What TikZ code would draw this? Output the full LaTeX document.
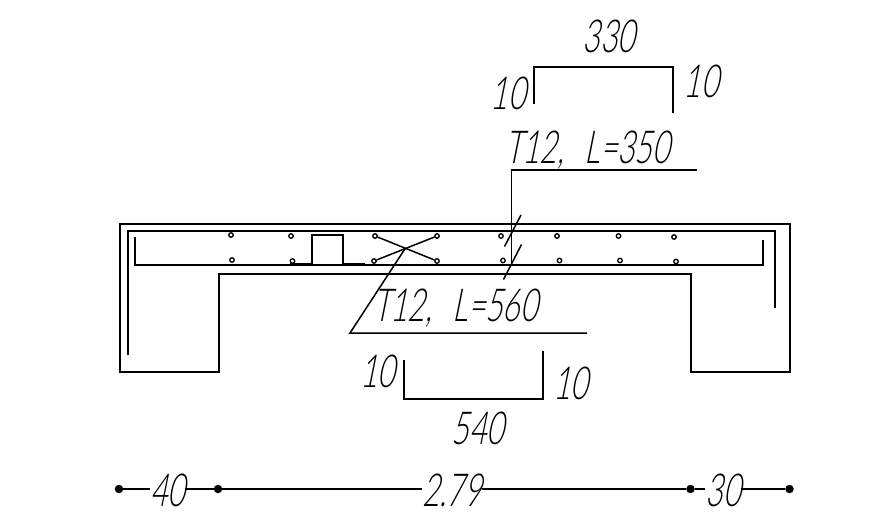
\documentclass[tikz,border=0pt]{standalone}
\usepackage{fontspec}
\newfontfamily\cadfont[FakeSlant=0.2,FakeStretch=0.66]{Lato Light}
\tikzset{
 line/.style={draw=black,line width=2pt,line join=miter},
 thin line/.style={draw=black,line width=1.5pt},
 bar/.style={circle,draw=black,line width=1.3pt,fill=white,inner sep=0pt,minimum size=4.5pt},
 dimdot/.style={circle,fill=black,inner sep=0pt,minimum size=8.5pt},
 cad/.style={inner sep=0pt,anchor=base,text=black,font=\cadfont\fontsize{45.5pt}{46pt}\selectfont},
}
\begin{document}
\begin{tikzpicture}[x=1pt,y=-1pt]
\useasboundingbox[fill=white] (0,0) rectangle (889,528);
% concrete outline
\draw[line] (119.5,223.5) -- (789.5,223.5) -- (789.5,372) -- (690.5,372) -- (690.5,273.5) -- (218.5,273.5) -- (218.5,372) -- (119.5,372) -- cycle;
% rebars
\draw[line] (127.5,355) -- (127.5,231) -- (774.5,231) -- (774.5,308);
\draw[line] (134.5,237) -- (134.5,264.5) -- (762.5,264.5) -- (762.5,240);
\draw[line] (311.5,264) -- (311.5,234.5) -- (342.5,234.5) -- (342.5,264);
\draw[line] (290,263.5) -- (311,263.5) (342,263.5) -- (365,263.5);
% bar nodes
\foreach \n/\x/\y in {a/231/235,b/291/236,c/375/236,d/437/236,e/501/236,f/557/236,g/618.5/236,h/674/237,
  i/232/260,j/292.5/261,k/374/261,l/437/261,m/503/260.5,n/559.5/260.5,o/620/260.5,p/676/261.5}
  \node[bar] (bar\n) at (\x,\y) {};
\draw[thin line] (barc) -- (barl);
\draw[thin line] (bark) -- (bard);
% leaders
\coordinate (cross) at (405.5,248);
\coordinate (lk) at (350,333);
\coordinate (lkend) at (587,333);
\draw[thin line] (cross) -- (lk) -- (lkend);
\coordinate (up0) at (511.5,264);
\coordinate (up1) at (511.5,170);
\coordinate (up2) at (697,170);
\draw[thin line] (up0) -- (up1) -- (up2);
\draw[thin line] (504.5,246.5) -- (521,215);
\draw[thin line] (503.5,279.5) -- (521.5,244.5);
% bending schedules
\draw[line] (533.5,104) -- (533.5,66.5) -- (672.5,66.5) -- (672.5,113);
\draw[line] (403.5,360) -- (403.5,399) -- (542.5,399) -- (542.5,351);
% labels
\node[cad] (t330) at (609,52.5) {330};
\node[cad] (t10a) at (508,109) {10};
\node[cad] (t10b) at (701,97.5) {10};
\node[cad] (t350) at (587.5,163) {T12,\hspace{21pt}L=350};
\node[cad] (t560) at (455.5,321) {T12,\hspace{21pt}L=560};
\node[cad] (t10c) at (377.5,387) {10};
\node[cad] (t10d) at (570.5,399) {10};
\node[cad] (t540) at (478,444) {540};
% dimension line
\node[dimdot] (d1) at (119,489) {};
\node[dimdot] (d2) at (218,489) {};
\node[dimdot] (d3) at (690.5,489) {};
\node[dimdot] (d4) at (789.5,489) {};
\node[cad] (t40) at (167.5,506) {40};
\node[cad] (t279) at (452,506) {2.79};
\node[cad] (t30) at (723,506) {30};
\coordinate (g1) at (t40.west|-d1);
\coordinate (g2) at (t40.east|-d1);
\coordinate (g3) at (t279.west|-d1);
\coordinate (g4) at (t279.east|-d1);
\coordinate (g5) at (t30.west|-d1);
\coordinate (g6) at (t30.east|-d1);
\draw[thin line] (d1) -- (g1);
\draw[thin line] (g2) -- (d2);
\draw[thin line] (d2) -- (g3);
\draw[thin line] (g4) -- (d3);
\draw[thin line] (d3) -- (g5);
\draw[thin line] (g6) -- (d4);
\end{tikzpicture}
\end{document}
